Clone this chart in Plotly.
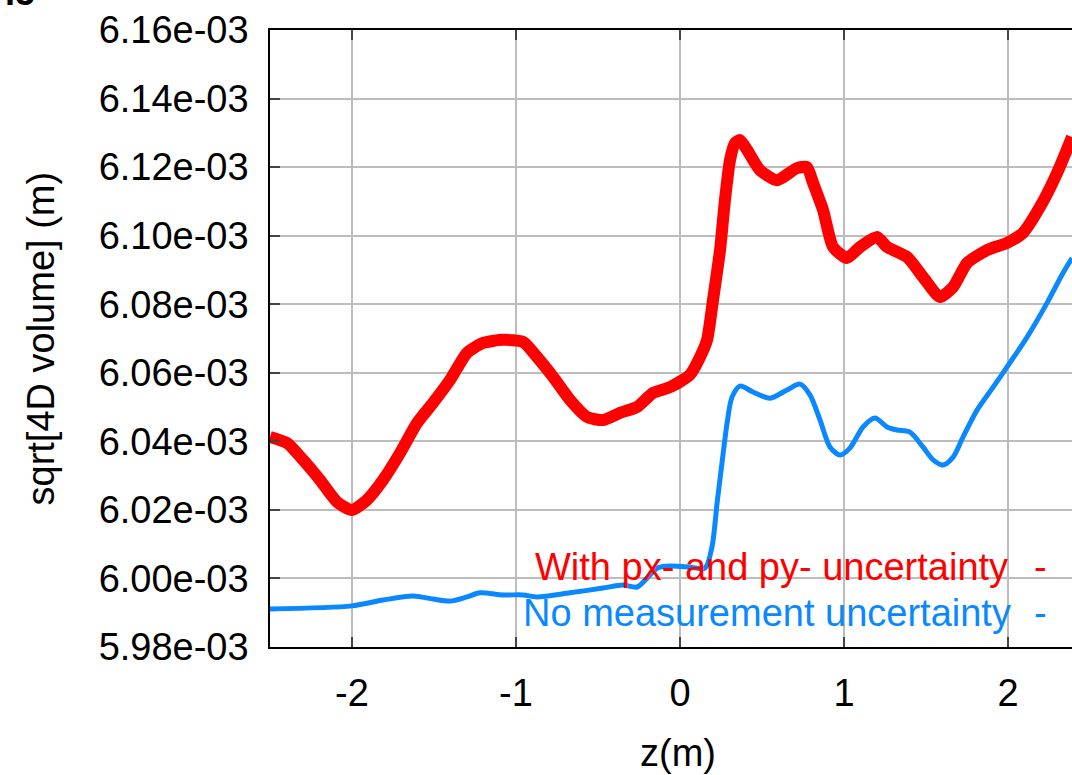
import plotly.graph_objects as go

# ---- data (values of sqrt[4D volume] in units of 1e-3 m) ----
z_red = [-2.5, -2.396, -2.299, -2.195, -2.091, -2.0, -1.909, -1.811, -1.707, -1.604,
         -1.506, -1.402, -1.299, -1.201, -1.079, -0.957, -0.872, -0.774, -0.671, -0.567,
         -0.47, -0.366, -0.262, -0.165, -0.061, 0.06, 0.122, 0.165, 0.201, 0.244,
         0.274, 0.305, 0.335, 0.366, 0.409, 0.488, 0.591, 0.713, 0.774, 0.811,
         0.872, 0.933, 1.018, 1.098, 1.201, 1.262, 1.384, 1.482, 1.585, 1.665,
         1.75, 1.872, 1.994, 2.091, 2.195, 2.299, 2.39]
v_red = [6.0413, 6.0395, 6.0346, 6.0287, 6.0223, 6.0200, 6.0229, 6.0287, 6.0366, 6.0453,
         6.0512, 6.0579, 6.0658, 6.0687, 6.0696, 6.0690, 6.0646, 6.0588, 6.0521, 6.0471,
         6.0462, 6.0483, 6.0500, 6.0541, 6.0558, 6.0594, 6.0646, 6.0696, 6.0812, 6.0958,
         6.1104, 6.1221, 6.1270, 6.1279, 6.1250, 6.1191, 6.1162, 6.1197, 6.1200, 6.1154,
         6.1075, 6.0967, 6.0935, 6.0967, 6.0996, 6.0967, 6.0938, 6.0879, 6.0821, 6.0850,
         6.0920, 6.0958, 6.0979, 6.1008, 6.1084, 6.1183, 6.1288]

z_blue = [-2.5, -2.0, -1.811, -1.628, -1.506, -1.402, -1.299, -1.22, -1.079, -0.957,
          -0.872, -0.671, -0.47, -0.348, -0.262, -0.201, -0.14, -0.061, 0.061, 0.152,
          0.195, 0.226, 0.256, 0.287, 0.317, 0.366, 0.445, 0.549, 0.652, 0.732,
          0.793, 0.854, 0.915, 0.976, 1.037, 1.116, 1.189, 1.262, 1.323, 1.402,
          1.482, 1.543, 1.604, 1.665, 1.726, 1.811, 1.909, 1.994, 2.116, 2.238,
          2.335, 2.39]
v_blue = [5.9911, 5.9920, 5.9937, 5.9949, 5.9940, 5.9934, 5.9946, 5.9958, 5.9952, 5.9952,
          5.9946, 5.9958, 5.9972, 5.9981, 5.9975, 6.0001, 6.0030, 6.0036, 6.0033, 6.0030,
          6.0092, 6.0220, 6.0337, 6.0453, 6.0529, 6.0561, 6.0544, 6.0526, 6.0550, 6.0567,
          6.0535, 6.0462, 6.0383, 6.0360, 6.0381, 6.0442, 6.0468, 6.0442, 6.0433, 6.0427,
          6.0383, 6.0346, 6.0331, 6.0354, 6.0413, 6.0491, 6.0558, 6.0617, 6.0704, 6.0804,
          6.0891, 6.0935]

x_ticks = [-2, -1, 0, 1, 2]
x_tick_text = ["-2", "-1", "0", "1", "2"]
y_ticks = [5.98, 6.00, 6.02, 6.04, 6.06, 6.08, 6.10, 6.12, 6.14, 6.16]
y_tick_text = ["5.98e-03", "6.00e-03", "6.02e-03", "6.04e-03", "6.06e-03",
               "6.08e-03", "6.10e-03", "6.12e-03", "6.14e-03", "6.16e-03"]

name_red = "With px- and py- uncertainty"
name_blue = "No measurement uncertainty"

FONT = "Liberation Sans, Arial, Helvetica, sans-serif"
RED = "#ff0000"
BLUE = "#0a88ff"

fig = go.Figure()
fig.add_trace(go.Scatter(x=z_red, y=v_red, mode="lines", name=name_red,
                         line=dict(color=RED, width=12, shape="spline", smoothing=0.6),
                         showlegend=False))
fig.add_trace(go.Scatter(x=z_blue, y=v_blue, mode="lines", name=name_blue,
                         line=dict(color=BLUE, width=5, shape="spline", smoothing=0.8),
                         showlegend=False))

W, H = 1072, 775
L, R, T, B = 270, 0, 30, 128
pw, ph = W - L - R, H - T - B


def px(xp):
    return (xp - L) / pw


def py(yp):
    return (H - B - yp) / ph


fig.update_layout(
    width=W, height=H,
    margin=dict(l=L, r=R, t=T, b=B),
    paper_bgcolor="white", plot_bgcolor="white",
    font=dict(family=FONT, size=38, color="black"),
    showlegend=False,
    xaxis=dict(range=[-2.5, 2.39], tickvals=x_ticks, ticktext=x_tick_text,
               ticks="inside", ticklen=10,
               tickwidth=1.5, tickcolor="#444", showline=True, linecolor="black",
               linewidth=1.5, mirror="ticks", showgrid=True, gridcolor="#bdbdbd",
               gridwidth=1.5, zeroline=False, tickfont=dict(size=38),
               ticklabelstandoff=12),
    yaxis=dict(range=[5.98, 6.16], tickvals=y_ticks, ticktext=y_tick_text,
               ticks="inside", ticklen=10, tickwidth=1.5, tickcolor="#444",
               showline=True, linecolor="black", linewidth=1.5, mirror=False,
               showgrid=True, gridcolor="#bdbdbd", gridwidth=1.5, zeroline=False,
               tickfont=dict(size=38), ticklabelstandoff=12),
)

# white key box (above grid, below curves)
fig.add_shape(type="rect", xref="paper", yref="paper",
              x0=px(420), x1=px(1065), y0=0, y1=py(547),
              fillcolor="white", line=dict(width=0), layer="between")

ann = []
ann.append(dict(text=name_red, xref="paper", yref="paper", x=px(1010), y=py(567),
                xanchor="right", yanchor="middle", showarrow=False,
                font=dict(color=RED, size=38)))
ann.append(dict(text="-", xref="paper", yref="paper", x=px(1040.5), y=py(567),
                xanchor="center", yanchor="middle", showarrow=False,
                font=dict(color=RED, size=38)))
ann.append(dict(text=name_blue, xref="paper", yref="paper", x=px(1013), y=py(613),
                xanchor="right", yanchor="middle", showarrow=False,
                font=dict(color=BLUE, size=38)))
ann.append(dict(text="-", xref="paper", yref="paper", x=px(1040.5), y=py(613),
                xanchor="center", yanchor="middle", showarrow=False,
                font=dict(color=BLUE, size=38)))
# axis titles
ann.append(dict(text="z(m)", xref="paper", yref="paper", x=px(678), y=py(753),
                xanchor="center", yanchor="middle", showarrow=False,
                font=dict(size=38)))
ann.append(dict(text="sqrt[4D volume] (m)", xref="paper", yref="paper", x=px(40),
                y=0.5, xanchor="center", yanchor="middle", textangle=-90,
                showarrow=False, font=dict(size=38)))
# cropped panel label at the very top-left
ann.append(dict(text="<b>.5</b>", xref="paper", yref="paper", x=px(37), y=py(15),
                xanchor="right", yanchor="bottom", showarrow=False,
                font=dict(size=36)))
fig.update_layout(annotations=ann)

fig.write_html("out.html")
